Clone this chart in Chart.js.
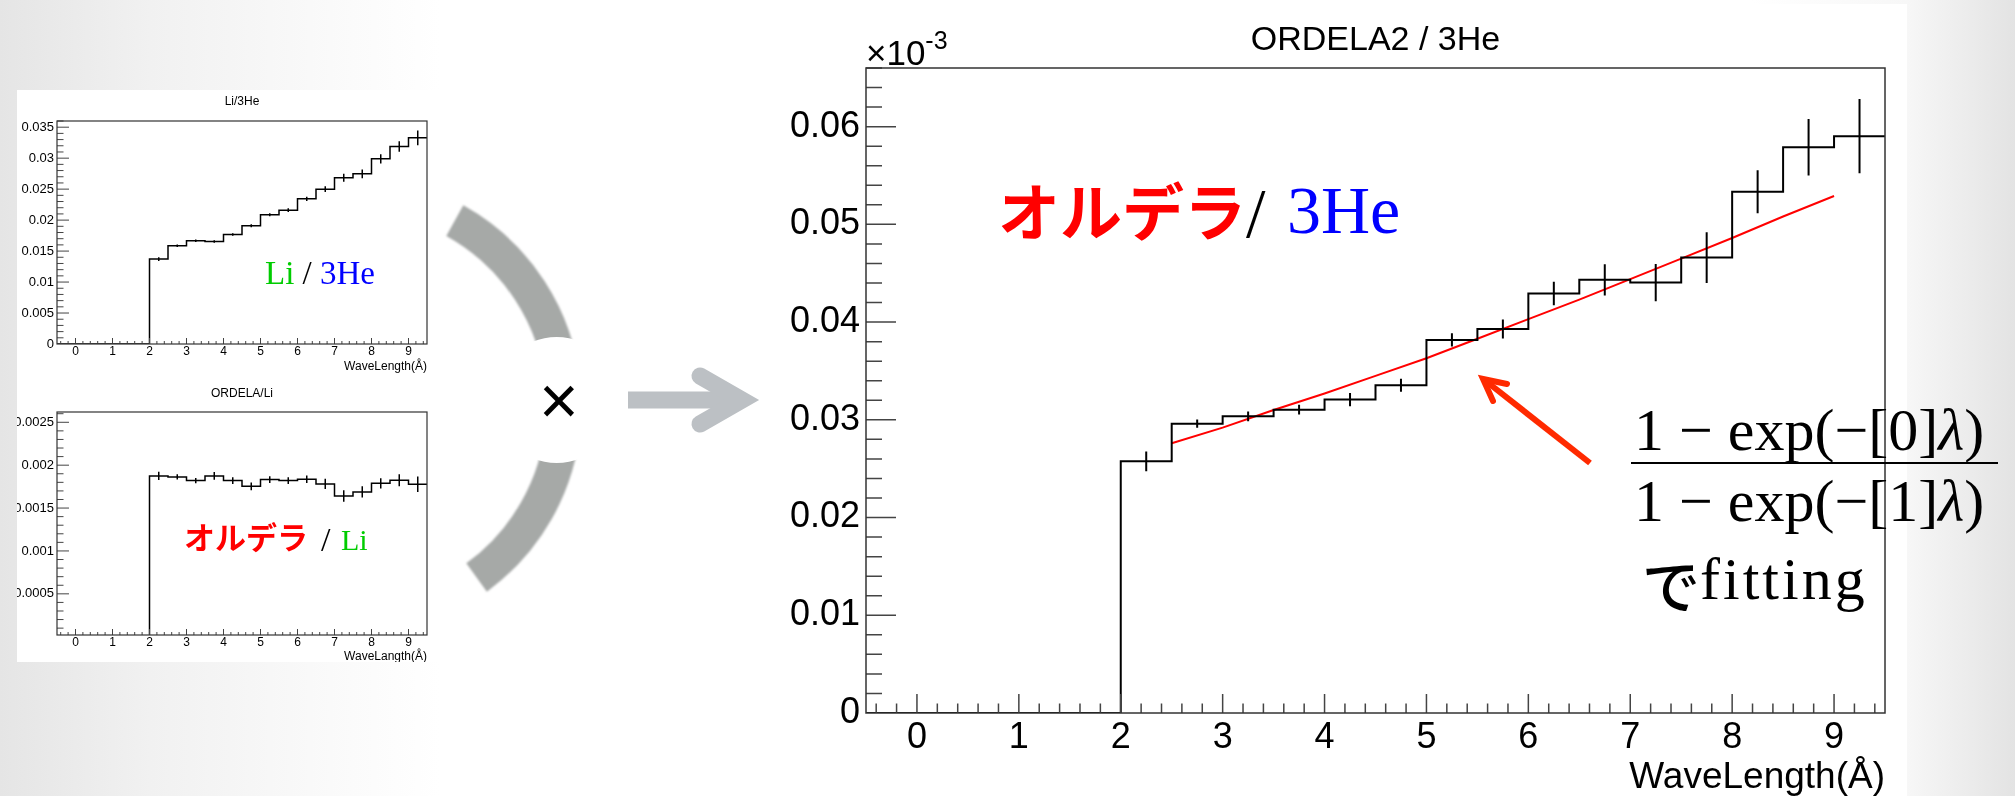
<!DOCTYPE html>
<html><head><meta charset="utf-8">
<script src="https://cdn.jsdelivr.net/npm/chart.js@4.4.1/dist/chart.umd.min.js"></script>
<style>
html,body{margin:0;padding:0;}
body{width:2015px;height:796px;overflow:hidden;position:relative;
 background:linear-gradient(to right,#e5e5e5 0px,#f1f1f1 150px,#fafafa 330px,#ffffff 440px,#ffffff 1750px,#f7f7f7 1907px,#e3e3e3 2015px);}
.abs{position:absolute;white-space:nowrap;line-height:1;}
#bigPanel{position:absolute;left:600px;top:4px;width:1307px;height:792px;background:#fff;}
canvas{position:absolute;}
#c1{left:17px;top:90px;background:#fff}
#c2{left:17px;top:373px;background:#fff}
#c3{left:760px;top:0px}
svg{position:absolute;left:0;top:0}
.serif{font-family:"Liberation Serif","Times New Roman",serif;}
.jp{font-family:"Noto Sans CJK JP",sans-serif;font-weight:700;}
.sans{font-family:"Liberation Sans",Arial,sans-serif;}
</style></head>
<body>
<div id="bigPanel"></div>
<canvas id="c1" width="423" height="283"></canvas>
<canvas id="c2" width="423" height="289"></canvas>
<canvas id="c3" width="1147" height="796"></canvas>
<svg width="2015" height="796">
  <defs><filter id="soft" x="-20%" y="-20%" width="140%" height="140%"><feGaussianBlur stdDeviation="1.2"/></filter></defs>
  <path d="M454.8,220.6 A212,212 0 0 1 563.2,387.5" stroke="#a6a9a7" stroke-width="35" fill="none" filter="url(#soft)"/>
  <path d="M563.2,424.5 A212,212 0 0 1 476.6,577.5" stroke="#a6a9a7" stroke-width="35" fill="none" filter="url(#soft)"/>
  <circle cx="556.7" cy="400" r="63" fill="#ffffff"/>
  <line x1="628" y1="400" x2="742" y2="400" stroke="#bcc0c4" stroke-width="17"/>
  <polyline points="700,376 742,400 700,424" fill="none" stroke="#bcc0c4" stroke-width="17" stroke-linecap="round" stroke-linejoin="miter" stroke-miterlimit="10"/>
  <line x1="1590" y1="463" x2="1487" y2="382" stroke="#ff2a00" stroke-width="6"/>
  <polyline points="1507,384 1483,379 1493,401" fill="none" stroke="#ff2a00" stroke-width="6" stroke-linecap="round" stroke-linejoin="miter" stroke-miterlimit="10"/>
</svg>

<div class="abs serif" style="left:265px;top:257px;font-size:33px"><span style="color:#00cc00">Li</span> / <span style="color:#0000ff">3He</span></div>

<div class="abs jp" style="left:184px;top:520px;font-size:31px;color:#ff0000">オルデラ</div>
<div class="abs serif" style="left:321px;top:523px;font-size:34px;color:#000">/</div>
<div class="abs serif" style="left:341px;top:525px;font-size:30px;color:#00cc00">Li</div>

<div class="abs jp" style="left:998px;top:178px;font-size:62px;color:#ff0000">オルデラ</div>
<div class="abs serif" style="left:1246px;top:179px;font-size:70px;color:#000">/</div>
<div class="abs serif" style="left:1287px;top:176px;font-size:68px;color:#0000ff">3He</div>

<div class="abs serif" style="left:1634px;top:400px;font-size:60px;color:#000">1 − exp(−[0]<i>λ</i>)</div>
<div style="position:absolute;left:1631px;top:462px;width:367px;height:2px;background:#000"></div>
<div class="abs serif" style="left:1634px;top:471px;font-size:60px;color:#000">1 − exp(−[1]<i>λ</i>)</div>
<div class="abs jp" style="left:1642px;top:554px;font-size:58px;font-weight:500;color:#000">で</div>
<div class="abs serif" style="left:1700px;top:549px;font-size:60px;letter-spacing:3px;color:#000">fitting</div>

<div class="abs sans" style="left:539px;top:366px;font-size:68px;color:#000">×</div>

<script>
// ---- data ----
const binEdges = [-0.5,0,0.5,1,1.5,2,2.5,3,3.5,4,4.5,5,5.5,6,6.5,7,7.5,8,8.5,9,9.5];
const liHeValues = [0,0,0,0,0,0.01371,0.01586,0.01667,0.01656,0.01769,0.01909,0.02086,0.02161,0.02344,0.02500,0.02683,0.02747,0.02989,0.03188,0.03328];
const liHeErrors = [0,0,0,0,0,0.0003,0.0002,0.0002,0.0002,0.0002,0.00025,0.00025,0.0003,0.00035,0.00045,0.00065,0.0007,0.00075,0.00086,0.0012];
const ordelaLiValues = [0,0,0,0,0,0.001875,0.001863,0.001820,0.001875,0.001820,0.001754,0.001832,0.001820,0.001836,0.001781,0.001641,0.001688,0.001789,0.001824,0.001778];
const ordelaLiErrors = [0,0,0,0,0,0.000049,0.00003,0.00003,0.000045,0.00004,0.000045,0.00004,0.00004,0.000045,0.00006,0.000066,0.000066,0.00006,0.00007,0.00009];
const ordela2HeValues = [0,0,0,0,0,0.02575,0.02961,0.03036,0.03104,0.03207,0.03353,0.03818,0.03930,0.04292,0.04432,0.04404,0.04660,0.05333,0.05789,0.05902];
const ordela2HeErrors = [0,0,0,0,0,0.0010,0.00043,0.0005,0.0005,0.00068,0.00067,0.00068,0.00097,0.0012,0.0016,0.0019,0.0026,0.0022,0.0029,0.0038];
const fitX = [2.5,3,3.5,4,4.5,5,5.5,6,6.5,7,7.5,8,8.5,9];
const fitY = [0.0276,0.0292,0.0310,0.0327,0.0345,0.0363,0.0383,0.0403,0.0423,0.0444,0.0465,0.0486,0.0508,0.0529];
const xTickValues = [0,1,2,3,4,5,6,7,8,9];
const xTickLabels = ['0','1','2','3','4','5','6','7','8','9'];
const liHeYTicks = [0,0.005,0.01,0.015,0.02,0.025,0.03,0.035];
const liHeYTickLabels = ['0','0.005','0.01','0.015','0.02','0.025','0.03','0.035'];
const ordelaLiYTicks = [0.0005,0.001,0.0015,0.002,0.0025];
const ordelaLiYTickLabels = ['0.0005','0.001','0.0015','0.002','0.0025'];
const bigYTicks = [0,0.01,0.02,0.03,0.04,0.05,0.06];
const bigYTickLabels = ['0','0.01','0.02','0.03','0.04','0.05','0.06'];

const FONT = '"Liberation Sans", Arial, sans-serif';
Chart.defaults.font.family = FONT;
Chart.defaults.color = '#000';

function histPoints(edges, vals){
  const pts = vals.map((v,i)=>({x:edges[i], y:v}));
  pts.push({x:edges[edges.length-1], y:vals[vals.length-1]});
  return pts;
}
function errPoints(edges, vals, errs){
  const pts = [];
  vals.forEach((v,i)=>{
    if (errs[i] > 0) {
      const c = (edges[i]+edges[i+1])/2;
      pts.push({x:c,y:v-errs[i]},{x:c,y:v+errs[i]},{x:c,y:null});
    }
  });
  return pts;
}

function decorPlugin(o){
  return {
    id:'decor_'+o.id,
    afterDatasetsDraw(chart){
      const ctx = chart.ctx, a = chart.chartArea, xs = chart.scales.x, ys = chart.scales.y;
      ctx.save();
      ctx.strokeStyle = '#444'; ctx.lineWidth = o.tickW;
      ctx.beginPath();
      const xn0 = Math.ceil(xs.min/o.xMinor - 1e-6), xn1 = Math.floor(xs.max/o.xMinor + 1e-6);
      for (let n=xn0; n<=xn1; n++){
        const v = n*o.xMinor;
        const isMaj = Math.abs(v/o.xMajor - Math.round(v/o.xMajor)) < 1e-6;
        const px = xs.getPixelForValue(v);
        ctx.moveTo(px, a.bottom); ctx.lineTo(px, a.bottom - (isMaj?o.xMajLen:o.xMinLen));
      }
      const yn0 = Math.ceil(ys.min/o.yMinor - 1e-6), yn1 = Math.floor(ys.max/o.yMinor + 1e-6);
      for (let n=Math.max(yn0,1); n<=yn1; n++){
        const v = n*o.yMinor;
        const isMaj = Math.abs(v/o.yMajor - Math.round(v/o.yMajor)) < 1e-6;
        const py = ys.getPixelForValue(v);
        ctx.moveTo(a.left, py); ctx.lineTo(a.left + (isMaj?o.yMajLen:o.yMinLen), py);
      }
      ctx.stroke();
      ctx.strokeStyle = '#333'; ctx.lineWidth = o.frameW;
      ctx.strokeRect(a.left, a.top, a.right-a.left, a.bottom-a.top);
      ctx.fillStyle = '#000'; ctx.textBaseline = 'alphabetic';
      o.texts.forEach(t=>{
        ctx.font = t.size+'px '+FONT;
        ctx.textAlign = t.align;
        const x = t.x==='center' ? (a.left+a.right)/2 : (t.x==='right' ? a.right : (t.x==='left' ? a.left : t.x));
        ctx.fillText(t.text, x, t.y);
        if (t.sup){
          const w = ctx.measureText(t.text).width;
          ctx.font = t.supSize+'px '+FONT;
          ctx.textAlign = 'left';
          ctx.fillText(t.sup, x + w, t.y + t.supDy);
        }
      });
      ctx.restore();
    }
  };
}

function makeChart(o){
  const datasets = [
    {data:histPoints(binEdges,o.values), stepped:'before', borderColor:'#000', borderWidth:o.lw, pointRadius:0, fill:false},
    {data:errPoints(binEdges,o.values,o.errors), borderColor:'#000', borderWidth:o.lw, pointRadius:0, spanGaps:false, fill:false}
  ];
  if (o.fit) datasets.push({data:fitX.map((x,i)=>({x:x,y:fitY[i]})), borderColor:'#ff0000', borderWidth:2, pointRadius:0, tension:0, fill:false});
  return new Chart(document.getElementById(o.id), {
    type:'line',
    data:{datasets:datasets},
    options:{
      responsive:false, animation:false, devicePixelRatio:1,
      layout:{padding:{top:o.padTop, right:o.padRight, left:0, bottom:0}},
      plugins:{legend:{display:false}, tooltip:{enabled:false}, title:{display:false}},
      scales:{
        x:{type:'linear', min:-0.5, max:9.5,
          grid:{display:false, drawTicks:false}, border:{display:false},
          afterBuildTicks:s=>{ s.ticks = xTickValues.map(v=>({value:v})); },
          ticks:{callback:(v,i)=>xTickLabels[i], font:{size:o.xFont}, padding:o.xPad, color:'#000', maxRotation:0, autoSkip:false},
          afterFit:s=>{ s.height = o.xH; }
        },
        y:{type:'linear', min:o.yMin, max:o.yMax,
          grid:{display:false, drawTicks:false}, border:{display:false},
          afterBuildTicks:s=>{ s.ticks = o.yTicks.map(v=>({value:v})); },
          ticks:{callback:(v,i)=>o.yLabels[i], font:{size:o.yFont}, padding:o.yPad, color:'#000', autoSkip:false},
          afterFit:s=>{ s.width = o.yW; }
        }
      }
    },
    plugins:[decorPlugin(o)]
  });
}

makeChart({id:'c1', values:liHeValues, errors:liHeErrors, fit:false, lw:1.5,
  padTop:31, padRight:13, yW:40, xH:29, yMin:0, yMax:0.036, yTicks:liHeYTicks, yLabels:liHeYTickLabels,
  xFont:12, yFont:13, xPad:0, yPad:3, tickW:1, frameW:1.2,
  xMajor:1, xMinor:0.2, xMajLen:6, xMinLen:3, yMajor:0.005, yMinor:0.001, yMajLen:12, yMinLen:6.5,
  texts:[{text:'Li/3He', x:'center', y:15, size:12, align:'center'},
         {text:'WaveLength(Å)', x:'right', y:280, size:12, align:'right'}]});

makeChart({id:'c2', values:ordelaLiValues, errors:ordelaLiErrors, fit:false, lw:1.5,
  padTop:39, padRight:13, yW:40, xH:27, yMin:0.00002, yMax:0.00262, yTicks:ordelaLiYTicks, yLabels:ordelaLiYTickLabels,
  xFont:12, yFont:13, xPad:0, yPad:3, tickW:1, frameW:1.2,
  xMajor:1, xMinor:0.2, xMajLen:6, xMinLen:3, yMajor:0.0005, yMinor:0.0001, yMajLen:12, yMinLen:6.5,
  texts:[{text:'ORDELA/Li', x:'center', y:24, size:12, align:'center'},
         {text:'WaveLangth(Å)', x:'right', y:287, size:12, align:'right'}]});

makeChart({id:'c3', values:ordela2HeValues, errors:ordela2HeErrors, fit:true, lw:2,
  padTop:68, padRight:22, yW:106, xH:83, yMin:0, yMax:0.066, yTicks:bigYTicks, yLabels:bigYTickLabels,
  xFont:36, yFont:36, xPad:3, yPad:6, tickW:1.5, frameW:1.5,
  xMajor:1, xMinor:0.2, xMajLen:19, xMinLen:9.5, yMajor:0.01, yMinor:0.002, yMajLen:30, yMinLen:16,
  texts:[{text:'ORDELA2 / 3He', x:'center', y:50, size:34, align:'center'},
         {text:'×10', x:'left', y:65, size:35, align:'left', sup:'-3', supSize:25, supDy:-16},
         {text:'WaveLength(Å)', x:'right', y:788, size:37, align:'right'}]});
</script>
</body></html>
